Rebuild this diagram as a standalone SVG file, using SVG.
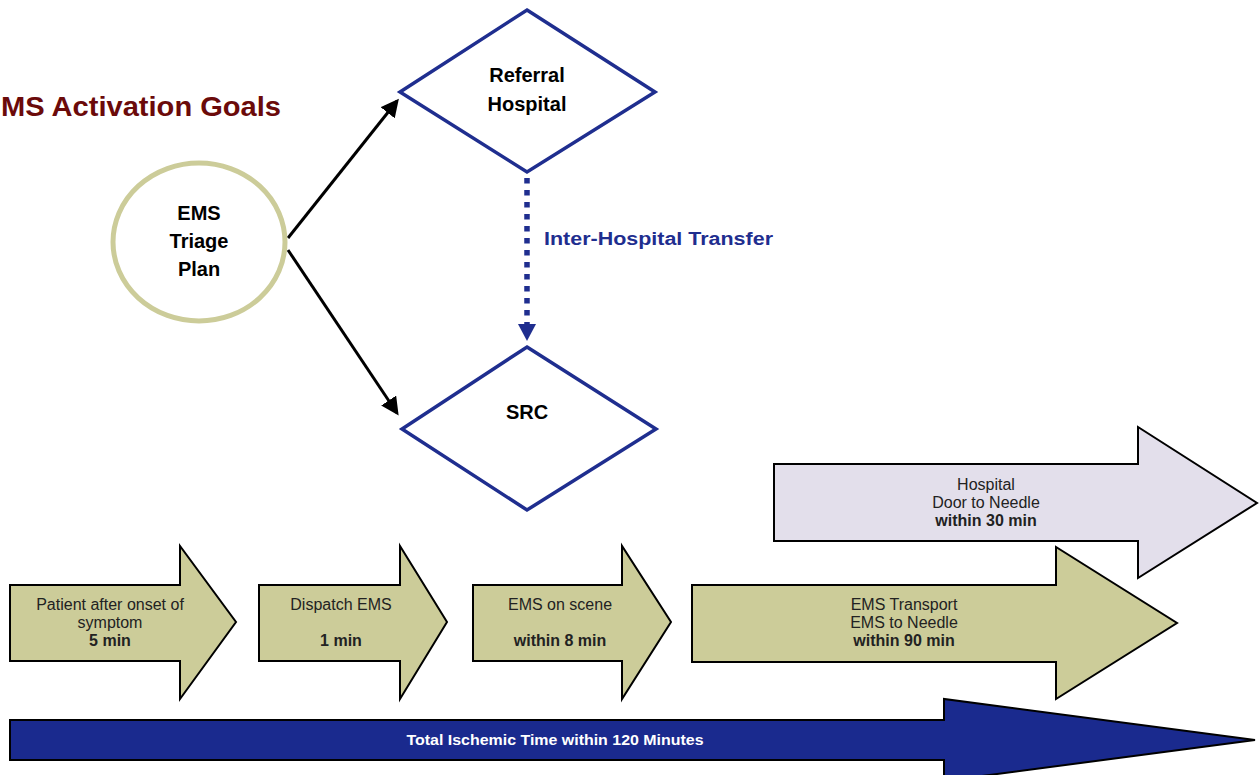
<svg xmlns="http://www.w3.org/2000/svg" width="1259" height="775" viewBox="0 0 1259 775">
<style>
.olive{fill:#cccc99;stroke:#000;stroke-width:2;stroke-linejoin:miter}
.lav{fill:#e3dfeb;stroke:#000;stroke-width:2}
.total{fill:#1a2a8e;stroke:#000;stroke-width:2}
.dia{fill:#fff;stroke:#1f2e8f;stroke-width:3.5}
.t{font-family:"Liberation Sans",Arial,sans-serif;font-size:16px;fill:#222;text-anchor:middle}
.b{font-weight:bold}
.nt{font-family:"Liberation Sans",Arial,sans-serif;font-size:20px;font-weight:bold;fill:#000;text-anchor:middle}
</style>
<defs>
<marker id="ab" markerWidth="6" markerHeight="6" refX="5" refY="3" orient="auto" markerUnits="strokeWidth"><path d="M0,0 L6,3 L0,6 Z" fill="#000"/></marker>
<marker id="ablue" markerWidth="4" markerHeight="4" refX="3" refY="2" orient="auto" markerUnits="strokeWidth"><path d="M0,0 L4,2 L0,4 Z" fill="#1f2e8f"/></marker>
</defs>
<text x="1" y="116" font-family="'Liberation Sans',Arial,sans-serif" font-size="27" font-weight="bold" fill="#6b0a0a" textLength="280" lengthAdjust="spacingAndGlyphs">MS Activation Goals</text>

<g id="connectors">
<line x1="288" y1="238" x2="397" y2="101" stroke="#000" stroke-width="3" marker-end="url(#ab)"/>
<line x1="288" y1="250" x2="397" y2="413" stroke="#000" stroke-width="3" marker-end="url(#ab)"/>
<line x1="527" y1="178" x2="527" y2="326" stroke="#1f2e8f" stroke-width="5.5" stroke-dasharray="5.5 6.5"/>
<path d="M518,324 L536,324 L527,341 Z" fill="#1f2e8f"/>
<text x="544" y="245" font-family="'Liberation Sans',Arial,sans-serif" font-size="18" font-weight="bold" fill="#1f2e8f" textLength="229" lengthAdjust="spacingAndGlyphs">Inter-Hospital Transfer</text>
</g>

<g id="triage">
<ellipse cx="199" cy="242" rx="86" ry="79" fill="#fff" stroke="#cccc99" stroke-width="5"/>
<text class="nt" x="199" y="220">EMS</text>
<text class="nt" x="199" y="248">Triage</text>
<text class="nt" x="199" y="276">Plan</text>
</g>

<g id="referral">
<polygon class="dia" points="527,10 655,92 527,172 400,92"/>
<text class="nt" x="527" y="82">Referral</text>
<text class="nt" x="527" y="111">Hospital</text>
</g>

<g id="src">
<polygon class="dia" points="527,347 656,429 527,510 402,429"/>
<text class="nt" x="527" y="419">SRC</text>
</g>

<g id="hospital">
<polygon class="lav" points="774,464 1138,464 1138,427 1257,503 1138,578 1138,541 774,541"/>
<text class="t" x="986" y="490">Hospital</text>
<text class="t" x="986" y="508">Door to Needle</text>
<text class="t b" x="986" y="526">within 30 min</text>
</g>

<g id="patient">
<polygon class="olive" points="10,585 180,585 180,546 236,622 180,699 180,661 10,661"/>
<text class="t" x="110" y="610">Patient after onset of</text>
<text class="t" x="110" y="628">symptom</text>
<text class="t b" x="110" y="646">5 min</text>
</g>

<g id="dispatch">
<polygon class="olive" points="259,585 400,585 400,546 447,622 400,699 400,661 259,661"/>
<text class="t" x="341" y="610">Dispatch EMS</text>
<text class="t b" x="341" y="646">1 min</text>
</g>

<g id="scene">
<polygon class="olive" points="473,585 622,585 622,546 671,622 622,699 622,661 473,661"/>
<text class="t" x="560" y="610">EMS on scene</text>
<text class="t b" x="560" y="646">within 8 min</text>
</g>

<g id="transport">
<polygon class="olive" points="692,585 1056,585 1056,547 1177,623 1056,699 1056,662 692,662"/>
<text class="t" x="904" y="610">EMS Transport</text>
<text class="t" x="904" y="628">EMS to Needle</text>
<text class="t b" x="904" y="646">within 90 min</text>
</g>

<g id="total">
<polygon class="total" points="10,720 944,720 944,699 1255,740 944,781 944,760 10,760"/>
<text x="555" y="745" font-family="'Liberation Sans',Arial,sans-serif" font-size="15" font-weight="bold" fill="#fff" text-anchor="middle" textLength="297" lengthAdjust="spacingAndGlyphs">Total Ischemic Time within 120 Minutes</text>
</g>
</svg>
